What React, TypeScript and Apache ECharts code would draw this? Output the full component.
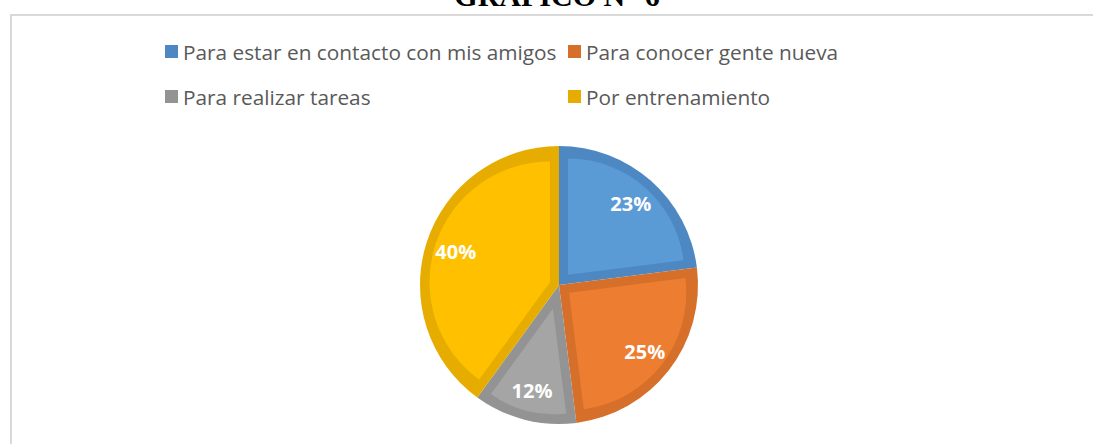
import React, { useEffect, useRef } from "react";
import * as echarts from "echarts";

const titleText = "GRÁFICO N° 6";
const categories = [
  "Para estar en contacto con mis amigos",
  "Para conocer gente nueva",
  "Para realizar tareas",
  "Por entrenamiento",
];
const values = [23, 25, 12, 40];
const fillColors = ["#5B9BD5", "#ED7D31", "#A5A5A5", "#FFC000"];
const bandColors = ["#4E88C2", "#D66F29", "#939393", "#E6AD00"];

const CX = 559;
const CY = 285;
const R = 139;
const BAND = 9;

export default function App() {
  const ref = useRef<HTMLDivElement>(null);
  useEffect(() => {
    if (!ref.current) return;
    const chart = echarts.init(ref.current, undefined, { renderer: "svg" });
    const total = values.reduce((a, b) => a + b, 0);
    let cum = 0;
    const overlays: any[] = values.map((v, i) => {
      const frac = v / total;
      const mid = ((cum + v / 2) / total) * 2 * Math.PI;
      cum += v;
      const half = frac * Math.PI;
      const s = BAND / Math.sin(Math.min(half, Math.PI / 2));
      return {
        type: "pie",
        center: [CX + s * Math.sin(mid), CY - s * Math.cos(mid)],
        radius: R - BAND - s,
        startAngle: 90,
        clockwise: true,
        silent: true,
        z: 2,
        label: { show: false },
        labelLine: { show: false },
        itemStyle: { borderWidth: 0 },
        data: categories.map((n, j) => ({
          name: n,
          value: values[j],
          itemStyle: { color: j === i ? fillColors[i] : "transparent" },
        })),
      };
    });
    const legendPos = [
      [165, 41],
      [568, 41],
      [165, 86],
      [568, 86],
    ];
    chart.setOption({
      animation: false,
      backgroundColor: "#ffffff",
      legend: categories.map((n, i) => ({
        left: legendPos[i][0],
        top: legendPos[i][1],
        padding: 0,
        icon: "rect",
        itemWidth: 13,
        itemHeight: 13,
        selectedMode: false,
        data: [{ name: n, itemStyle: { color: bandColors[i] } }],
        textStyle: {
          fontFamily: "Open Sans",
          fontSize: 20.8,
          color: "#595959",
          lineHeight: 20,
        },
      })),
      graphic: [
        {
          type: "rect",
          shape: { x: 11, y: 15, width: 1200, height: 600 },
          style: { fill: "none", stroke: "#D9D9D9", lineWidth: 2 },
          silent: true,
        },
        {
          type: "text",
          x: 557,
          y: 10,
          style: {
            text: titleText,
            font: 'bold 30px "Liberation Serif"',
            fill: "#000000",
            align: "center",
            verticalAlign: "bottom",
          },
          silent: true,
        },
      ],
      series: [
        {
          type: "pie",
          center: [CX, CY],
          radius: R,
          startAngle: 90,
          clockwise: true,
          silent: true,
          z: 1,
          label: { show: false },
          labelLine: { show: false },
          itemStyle: { borderWidth: 0 },
          data: categories.map((n, i) => ({
            name: n,
            value: values[i],
            itemStyle: { color: bandColors[i] },
          })),
        },
        ...overlays,
        {
          type: "pie",
          center: [CX, CY],
          radius: [72, R],
          startAngle: 90,
          clockwise: true,
          silent: true,
          z: 3,
          itemStyle: { borderWidth: 0, color: "transparent" },
          labelLine: { show: false },
          label: {
            show: true,
            position: "inside",
            formatter: (p: any) => Math.round(p.percent) + "%",
            color: "#ffffff",
            fontFamily: "Open Sans",
            fontWeight: "bold",
            fontSize: 20,
          },
          data: categories.map((n, i) => ({
            name: n,
            value: values[i],
            itemStyle: { color: "transparent" },
          })),
        },
      ],
    });
    return () => chart.dispose();
  }, []);
  return (
    <div
      ref={ref}
      style={{ position: "absolute", left: 0, top: 0, width: 1093, height: 444 }}
    />
  );
}
